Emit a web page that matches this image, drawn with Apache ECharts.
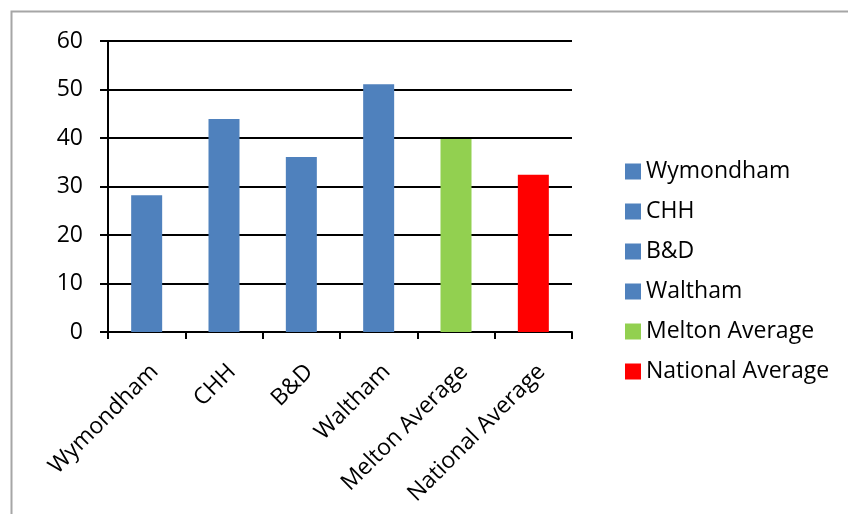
<!DOCTYPE html>
<html>
<head>
<meta charset="utf-8">
<script src="https://cdn.jsdelivr.net/npm/echarts@6/dist/echarts.min.js"></script>
<style>
html,body{margin:0;padding:0;background:#fff;}
#c{width:848px;height:514px;}
</style>
</head>
<body>
<div id="c"></div>
<script>
var categories = ['Wymondham', 'CHH', 'B&D', 'Waltham', 'Melton Average', 'National Average'];
var values = [28.2, 43.9, 36.1, 51.1, 39.8, 32.4];
var colors = ['#4f81bd', '#4f81bd', '#4f81bd', '#4f81bd', '#92d050', '#ff0000'];
var yTicks = [0, 10, 20, 30, 40, 50, 60];

var FONT = 'Open Sans';
var series = categories.map(function (name, i) {
  var d = categories.map(function (c, j) { return j === i ? values[i] : '-'; });
  return {
    name: name,
    type: 'bar',
    stack: 'all',
    barWidth: 31,
    data: d,
    itemStyle: { color: colors[i] }
  };
});

var chart = echarts.init(document.getElementById('c'), null, { renderer: 'canvas' });
chart.setOption({
  animation: false,
  backgroundColor: '#fff',
  graphic: [{
    type: 'rect',
    shape: { x: 11.5, y: 11.5, width: 900, height: 600 },
    style: { fill: 'none', stroke: '#a6a6a6', lineWidth: 2 },
    silent: true
  }],
  grid: { left: 108, right: 276, top: 41, bottom: 182, containLabel: false },
  legend: {
    orient: 'vertical',
    left: 620,
    top: 155,
    itemWidth: 16,
    itemHeight: 16,
    itemGap: 17,
    icon: 'rect',
    selectedMode: false,
    data: categories,
    textStyle: { fontFamily: FONT, fontSize: 23, color: '#000', lineHeight: 23, padding: [0, 0, 0, 0] }
  },
  xAxis: {
    type: 'category',
    data: categories,
    axisLine: { show: true, lineStyle: { color: '#000', width: 2 } },
    axisTick: { show: true, length: 7, lineStyle: { color: '#000', width: 2 } },
    axisLabel: {
      rotate: 45,
      interval: 0,
      margin: 28,
      align: 'right',
      verticalAlign: 'top',
      fontFamily: FONT,
      fontSize: 23,
      color: '#000'
    }
  },
  yAxis: {
    type: 'value',
    min: yTicks[0],
    max: yTicks[yTicks.length - 1],
    interval: 10,
    axisLine: { show: true, lineStyle: { color: '#000', width: 2 } },
    axisTick: { show: true, length: 8, lineStyle: { color: '#000', width: 2 } },
    splitLine: { show: true, lineStyle: { color: '#000', width: 2 } },
    axisLabel: {
      margin: 25,
      fontFamily: FONT,
      fontSize: 23,
      color: '#000',
      padding: [8, 0, 0, 0]
    }
  },
  series: series
});
</script>
</body>
</html>
